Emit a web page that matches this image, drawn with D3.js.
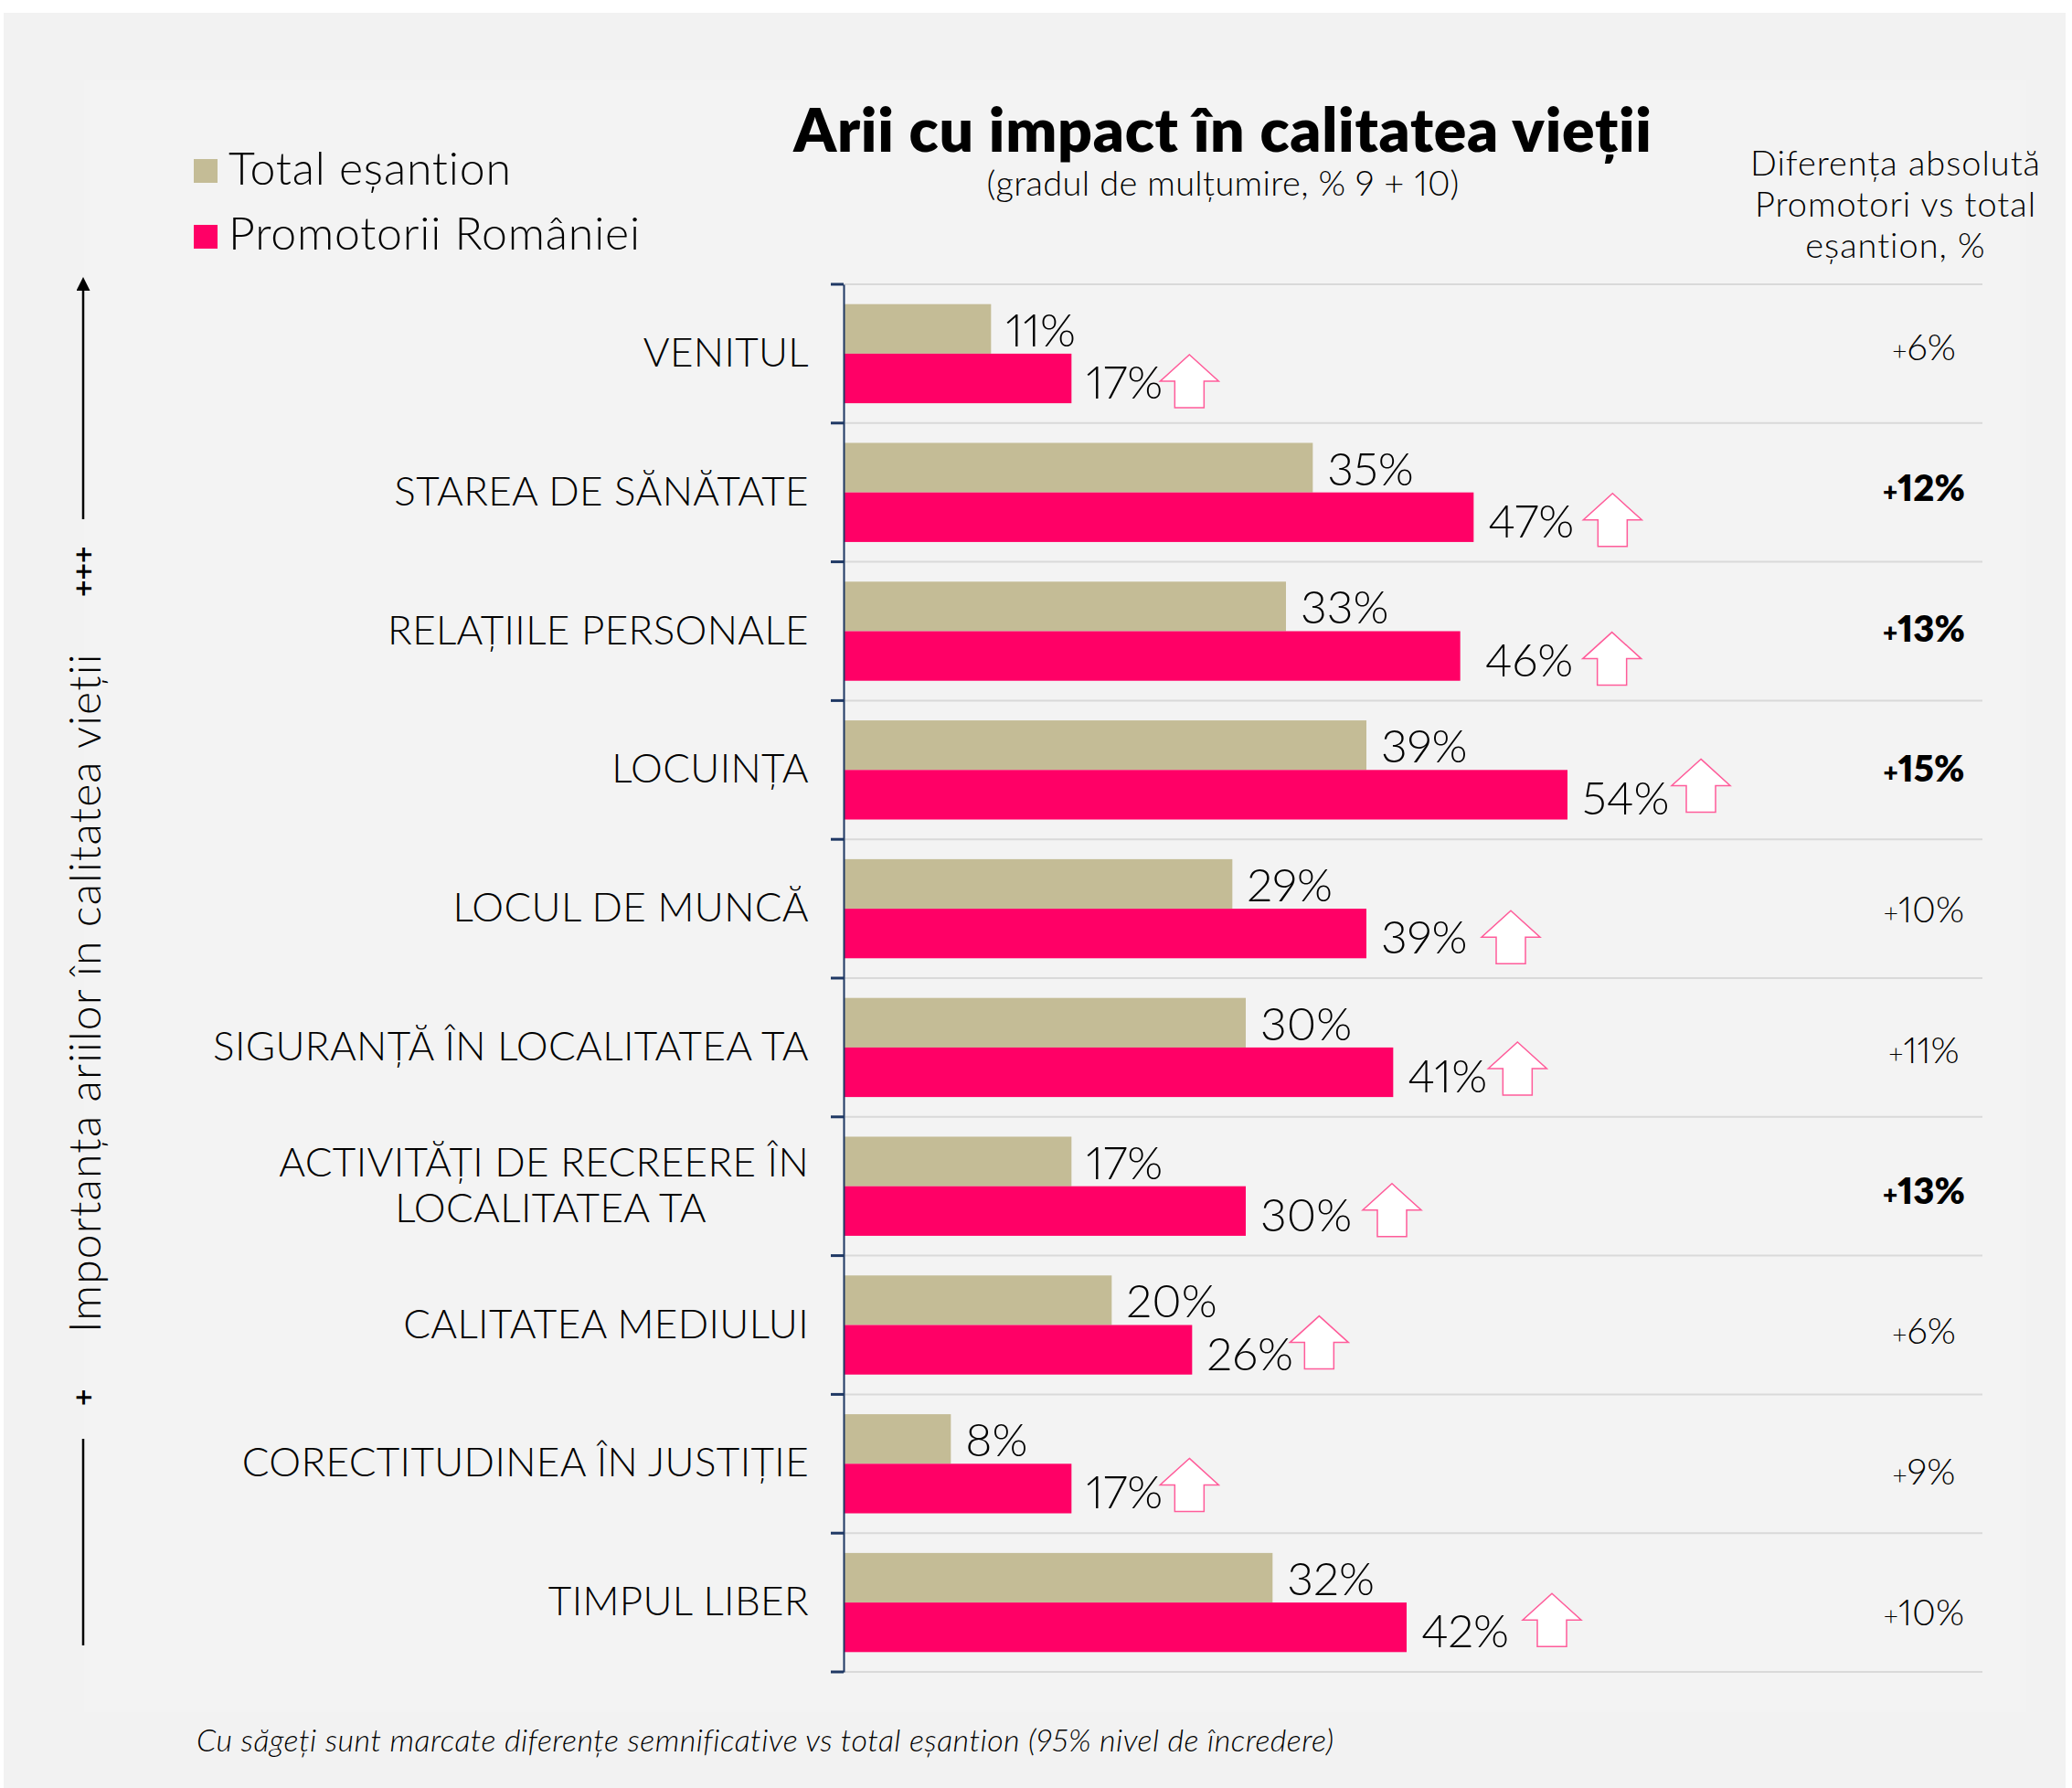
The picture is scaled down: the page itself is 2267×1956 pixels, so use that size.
<!DOCTYPE html>
<meta charset="utf-8">
<style>
  body { margin: 0; background: #fff; }
  text { font-family: Lato, sans-serif; font-weight: 300; fill: #000; font-variant-numeric: proportional-nums; }
  .axis text { font-size: 44px; letter-spacing: 0.35px; }
  .axis path { stroke: #1f3864; stroke-width: 2; fill: none; }
  .axis line { stroke: #1f3864; stroke-width: 3; }
</style>
<div id="chart"></div>
<script src="https://cdn.jsdelivr.net/npm/d3@7"></script>
<script>
    var categories = ["VENITUL", "STAREA DE SĂNĂTATE", "RELAȚIILE PERSONALE", "LOCUINȚA", "LOCUL DE MUNCĂ",
        "SIGURANȚĂ ÎN LOCALITATEA TA", "ACTIVITĂȚI DE RECREERE ÎN|LOCALITATEA TA", "CALITATEA MEDIULUI",
        "CORECTITUDINEA ÎN JUSTIȚIE", "TIMPUL LIBER"];
    var totalValues = [11, 35, 33, 39, 29, 30, 17, 20, 8, 32];
    var promoterValues = [17, 47, 46, 54, 39, 41, 30, 26, 17, 42];
    var diffLabels = ["6%", "12%", "13%", "15%", "10%", "11%", "13%", "6%", "9%", "10%"];
    var diffBold = [false, true, true, true, false, false, true, false, false, false];
    // hand placed in the original: gap from bar end to arrow centre, shift from bar centre
    var arrowGaps = [129, 152, 166, 146, 158, 136, 160, 139, 129, 159];
    var arrowShifts = [3, 3, 3, -10, 4, -4, -1, -8, -4, -8];
    var promoterLabelGaps = [16, 16, 27, 16, 16, 16, 16, 16, 16, 16];

    var totalColor = "#c4bc96", promoterColor = "#ff0066";

    var svg = d3.select("#chart").append("svg").attr("width", 2267).attr("height", 1956);

    svg.append("rect").attr("x", 4).attr("y", 14).attr("width", 2256).attr("height", 1942).attr("fill", "#f2f2f2");
    svg.append("rect").attr("x", 92).attr("y", 87).attr("width", 2125).attr("height", 1786).attr("fill", "#f3f3f3");

    var xScale = d3.scaleLinear().domain([0, 54]).range([923, 1715]);
    var yScale = d3.scaleBand().domain(categories).range([311, 1829]);
    var barScale = d3.scaleBand().domain(["total", "promoter"]).range([0, yScale.bandwidth()]).paddingOuter(0.4);
    var diffScale = d3.scalePoint().domain(categories).range([394, 1778]);

    // gridlines on the band edges
    svg.append("g").selectAll("line")
        .data(d3.range(categories.length + 1))
        .enter().append("line")
        .attr("x1", 923).attr("x2", 2169)
        .attr("y1", (d) => 311 + d * yScale.step())
        .attr("y2", (d) => 311 + d * yScale.step())
        .attr("stroke", "#d9d9d9").attr("stroke-width", 2);

    var rows = svg.selectAll(".row")
        .data(categories)
        .enter().append("g")
        .attr("class", "row")
        .attr("transform", (d) => "translate(0," + yScale(d) + ")");

    rows.append("rect")
        .attr("x", xScale(0))
        .attr("y", barScale("total"))
        .attr("width", (d, i) => xScale(totalValues[i]) - xScale(0))
        .attr("height", barScale.bandwidth())
        .attr("fill", totalColor);

    rows.append("rect")
        .attr("x", xScale(0))
        .attr("y", barScale("promoter"))
        .attr("width", (d, i) => xScale(promoterValues[i]) - xScale(0))
        .attr("height", barScale.bandwidth())
        .attr("fill", promoterColor);

    rows.append("text")
        .attr("x", (d, i) => xScale(totalValues[i]) + 16)
        .attr("y", barScale("total") + barScale.bandwidth() / 2 + 19)
        .attr("font-size", 50)
        .text((d, i) => totalValues[i] + "%");

    rows.append("text")
        .attr("x", (d, i) => xScale(promoterValues[i]) + promoterLabelGaps[i])
        .attr("y", barScale("promoter") + barScale.bandwidth() / 2 + 22)
        .attr("font-size", 50)
        .text((d, i) => promoterValues[i] + "%");

    // significance arrows
    rows.append("path")
        .attr("d", "M0,-29L32,0L16,0L16,29L-16,29L-16,0L-32,0Z")
        .attr("transform", (d, i) => "translate(" + (xScale(promoterValues[i]) + arrowGaps[i]) + "," + (barScale("promoter") + barScale.bandwidth() / 2 + arrowShifts[i]) + ")")
        .attr("fill", "#fff").attr("stroke", "#ff5c9a").attr("stroke-width", 1.5);

    // difference column
    var diffs = svg.append("g").selectAll("text")
        .data(categories)
        .enter().append("text")
        .attr("x", 2105)
        .attr("y", (d) => diffScale(d))
        .attr("text-anchor", "middle")
        .style("font-weight", (d, i) => diffBold[i] ? 800 : 300);
    diffs.append("tspan").attr("font-size", 28).text("+");
    diffs.append("tspan").attr("font-size", 40).text((d, i) => diffLabels[i]);

    // category axis
    var yAxis = d3.axisLeft(yScale).tickSize(0).tickPadding(38).tickFormat("");
    var axisG = svg.append("g").attr("class", "axis").attr("transform", "translate(923,0)").call(yAxis);
    axisG.selectAll(".tick").each(function (d) {
        var parts = d.split("|");
        var t = d3.select(this).select("text").attr("dy", null).attr("y", 0);
        parts.forEach((p, i) => {
            t.append("tspan").attr("x", i ? -150 : -38).attr("text-anchor", "end")
                .attr("y", parts.length > 1 ? (i ? 39 : -11) : 14).text(p);
        });
    });
    axisG.append("g").selectAll("line")
        .data(d3.range(categories.length + 1))
        .enter().append("line")
        .attr("x1", -14).attr("x2", 0)
        .attr("y1", (d) => 311 + d * yScale.step())
        .attr("y2", (d) => 311 + d * yScale.step());

    // title block
    svg.append("text").attr("x", 1338).attr("y", 166).attr("text-anchor", "middle")
        .attr("font-size", 66).attr("letter-spacing", 0.75).style("font-weight", 800).text("Arii cu impact în calitatea vieții");
    svg.append("text").attr("x", 1338).attr("y", 214).attr("text-anchor", "middle")
        .attr("font-size", 38).attr("letter-spacing", 0.33).text("(gradul de mulțumire, % 9 + 10)");

    // legend
    svg.append("rect").attr("x", 212).attr("y", 174).attr("width", 26).attr("height", 26).attr("fill", totalColor);
    svg.append("rect").attr("x", 212).attr("y", 246).attr("width", 26).attr("height", 26).attr("fill", promoterColor);
    svg.append("text").attr("x", 250).attr("y", 202).attr("font-size", 50).attr("letter-spacing", 0.8).text("Total eșantion");
    svg.append("text").attr("x", 250).attr("y", 273).attr("font-size", 50).attr("letter-spacing", 0.8).text("Promotorii României");

    // right column header
    ["Diferența absolută", "Promotori vs total", "eșantion, %"].forEach((s, i) => {
        svg.append("text").attr("x", 2074).attr("y", 192 + i * 45).attr("text-anchor", "middle")
            .attr("font-size", 38).attr("letter-spacing", 0.95).text(s);
    });

    // importance axis on the left
    svg.append("defs").append("marker").attr("id", "tip")
        .attr("viewBox", "0 0 10 10").attr("refX", 5).attr("refY", 10)
        .attr("markerWidth", 6).attr("markerHeight", 6).attr("orient", "0")
        .append("path").attr("d", "M5,0L10,10L0,10Z").attr("fill", "#000");
    svg.append("line").attr("x1", 91).attr("x2", 91).attr("y1", 568).attr("y2", 318)
        .attr("stroke", "#000").attr("stroke-width", 2.5).attr("marker-end", "url(#tip)");
    svg.append("line").attr("x1", 91).attr("x2", 91).attr("y1", 1574).attr("y2", 1800)
        .attr("stroke", "#000").attr("stroke-width", 2.5);
    svg.append("text").attr("transform", "translate(110,1458) rotate(-90)").attr("font-size", 48).attr("letter-spacing", 1.2)
        .text("Importanța ariilor în calitatea vieții");
    svg.append("text").attr("transform", "translate(103,653) rotate(-90)").attr("font-size", 32).style("font-weight", 700).text("+++");
    svg.append("text").attr("transform", "translate(103,1538) rotate(-90)").attr("font-size", 32).style("font-weight", 700).text("+");

    svg.append("text").attr("x", 215).attr("y", 1916).attr("font-size", 34).attr("letter-spacing", 0.47).style("font-style", "italic")
        .text("Cu săgeți sunt marcate diferențe semnificative vs total eșantion (95% nivel de încredere)");
</script>
